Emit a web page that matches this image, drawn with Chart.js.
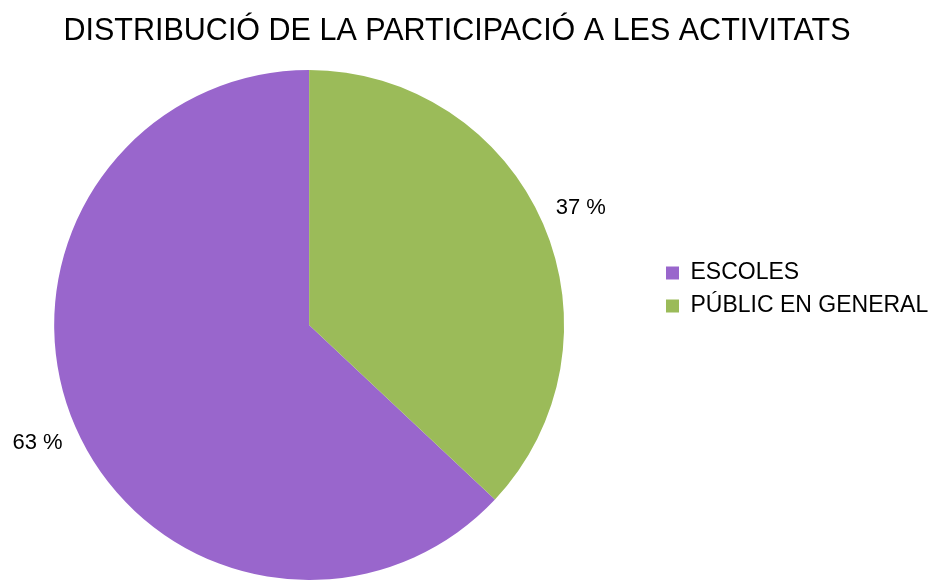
<!DOCTYPE html>
<html>
<head>
<meta charset="utf-8">
<script src="https://cdn.jsdelivr.net/npm/chart.js@4/dist/chart.umd.min.js"></script>
<style>
  html, body { margin: 0; padding: 0; background: #fff; overflow: hidden; }
  #wrap { width: 932px; height: 580px; position: relative; }
</style>
</head>
<body>
<div id="wrap"><canvas id="pie-chart"></canvas></div>
<script>
const categories = ["ESCOLES", "PÚBLIC EN GENERAL"];
const shares = [63, 37];
const colors = ["#9966cc", "#9bbb59"];

// percentage labels outside each slice
const outsideLabels = {
	id: 'outsideLabels',
	afterDatasetsDraw(chart) {
		const ctx = chart.ctx;
		const meta = chart.getDatasetMeta(0);
		const total = shares.reduce((a, b) => a + b, 0);
		ctx.save();
		ctx.font = '22px "Liberation Sans", Arial, sans-serif';
		ctx.fillStyle = '#000';
		ctx.textAlign = 'center';
		ctx.textBaseline = 'middle';
		meta.data.forEach((arc, i) => {
			const p = arc.getProps(['x', 'y', 'startAngle', 'endAngle', 'outerRadius'], true);
			const mid = (p.startAngle + p.endAngle) / 2;
			const r = p.outerRadius + 41;
			const pct = Math.round(shares[i] / total * 100) + ' %';
			ctx.fillText(pct, p.x + Math.cos(mid) * r, p.y + Math.sin(mid) * r);
		});
		ctx.restore();
	}
};

// legend sits further right than chart.js would put it, title is centred a bit right too
const nudge = {
	id: 'nudge',
	afterLayout(chart) {
		const lg = chart.legend;
		const dx = 656 - lg.left;
		lg.left += dx;
		lg.right += dx;
		const tb = chart.titleBlock;
		const tx = 457 - (tb.left + tb.right) / 2;
		tb.left += tx;
		tb.right += tx;
	}
};

new Chart(document.getElementById("pie-chart"), {
	type: 'pie',
	data: {
		labels: categories,
		datasets: [{
			data: shares,
			backgroundColor: colors,
			borderWidth: 0
		}]
	},
	options: {
		responsive: true,
		maintainAspectRatio: false,
		animation: false,
		rotation: 133.2,
		layout: { padding: { top: -4, left: 0, right: 31.5, bottom: -3 } },
		plugins: {
			title: {
				display: true,
				text: 'DISTRIBUCIÓ DE LA PARTICIPACIÓ A LES ACTIVITATS',
				color: '#000',
				font: { family: '"Liberation Sans", Arial, sans-serif', size: 30.5, weight: 'normal', lineHeight: 1.2 },
				padding: { top: 17.5, bottom: 20 }
			},
			legend: {
				position: 'right',
				fullSize: true,
				labels: {
					color: '#000',
					boxWidth: 13,
					boxHeight: 13,
					padding: 10,
					font: { family: '"Liberation Sans", Arial, sans-serif', size: 23 }
				}
			},
			tooltip: { enabled: false }
		}
	},
	plugins: [outsideLabels, nudge]
});
</script>
</body>
</html>
